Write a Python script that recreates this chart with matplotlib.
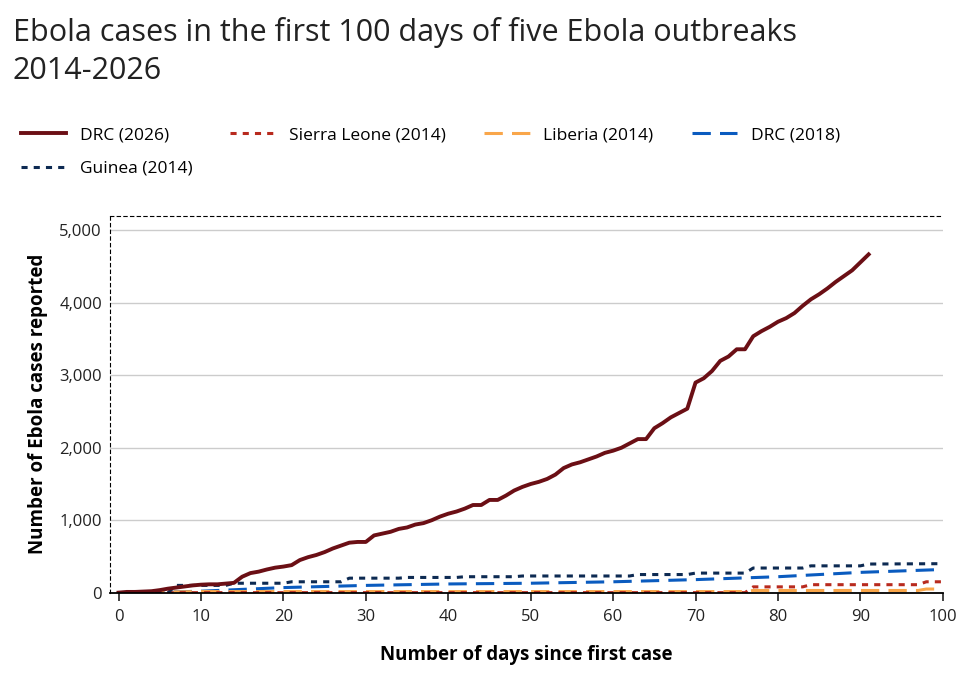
import matplotlib.pyplot as plt
import numpy as np

plt.rcParams["font.family"] = ["Open Sans", "DejaVu Sans"]

drc2026_days = list(range(0, 92))
drc2026 = [0, 10, 10, 15, 20, 35, 55, 70, 85, 100, 110, 115, 115, 125, 135, 220, 270, 290, 320, 345,
           360, 380, 450, 490, 520, 560, 610, 650, 690, 700, 700, 790, 815, 840, 880, 900, 940, 960, 1000, 1050,
           1090, 1120, 1160, 1210, 1210, 1280, 1280, 1340, 1410, 1460, 1500, 1530, 1570, 1630, 1720, 1770, 1800, 1840, 1880, 1930,
           1960, 2000, 2060, 2120, 2120, 2270, 2340, 2420, 2480, 2540, 2900, 2960, 3060, 3200, 3260, 3360, 3360, 3540, 3610, 3670,
           3740, 3790, 3860, 3960, 4050, 4120, 4200, 4290, 4370, 4450, 4560, 4670]

guinea_days = [0, 6, 7, 13, 14, 20, 21, 27, 28, 34, 35, 41, 42, 48, 49, 62, 63, 69, 70, 76, 77, 83, 84, 90, 91, 100]
guinea = [0, 0, 100, 100, 130, 130, 150, 150, 200, 200, 210, 210, 220, 220, 230, 230, 250, 250, 270, 270,
          340, 340, 370, 370, 395, 400]
sierra_days = [0, 76, 77, 83, 84, 97, 98, 100]
sierra = [0, 0, 80, 80, 110, 110, 150, 150]
liberia_days = [0, 10, 76, 77, 97, 98, 100]
liberia = [0, 15, 15, 30, 30, 50, 50]
drc2018_days = [0, 5, 10, 20, 30, 40, 50, 60, 70, 80, 90, 100]
drc2018 = [0, 5, 20, 70, 100, 120, 130, 150, 180, 220, 280, 320]

fig = plt.figure(figsize=(9.76, 6.75), dpi=100)
ax = fig.add_axes([0.113, 0.122, 0.853, 0.558])

ax.plot(drc2018_days, drc2018, color="#0a5bbf", lw=2.2, ls=(0, (6, 3)), label="DRC (2018)")
ax.plot(liberia_days, liberia, color="#f9a64a", lw=2.2, ls=(0, (6, 3)), label="Liberia (2014)")
ax.plot(sierra_days, sierra, color="#b82a1e", lw=2.2, ls=(0, (2, 2)), label="Sierra Leone (2014)")
ax.plot(guinea_days, guinea, color="#0d2a52", lw=2.2, ls=(0, (2, 2)), label="Guinea (2014)")
ax.plot(drc2026_days, drc2026, color="#6b0f15", lw=2.8, label="DRC (2026)")

ax.set_xlim(-1, 100)
ax.set_ylim(0, 5200)
ax.set_xticks(range(0, 101, 10))
ax.set_yticks(range(0, 5001, 1000))
ax.set_yticklabels([f"{v:,}" for v in range(0, 5001, 1000)])
ax.tick_params(labelsize=12, colors="#222222", length=0, pad=6)
ax.tick_params(axis="x", length=6, direction="out", width=1.2)
ax.grid(axis="y", color="#cccccc", lw=1)
ax.set_axisbelow(True)
ax.spines["right"].set_visible(False)
ax.spines["top"].set_linestyle((0, (3, 3)))
ax.spines["left"].set_linestyle((0, (3, 3)))
ax.spines["bottom"].set_linewidth(1.3)
ax.set_xlabel("Number of days since first case", fontsize=13.5, fontweight="bold", labelpad=14)
ax.set_ylabel("Number of Ebola cases reported", fontsize=13.5, fontweight="bold", labelpad=8)

fig.text(0.013, 0.975, "Ebola cases in the first 100 days of five Ebola outbreaks\n2014-2026",
         fontsize=22, va="top", linespacing=1.35, color="#222222")

h, l = ax.get_legend_handles_labels()
order = [4, 3, 2, 1, 0]
fig.legend([h[i] for i in order], [l[i] for i in order], loc="upper left",
           bbox_to_anchor=(0.005, 0.835), ncol=4, frameon=False, fontsize=12.5,
           handlelength=2.6, columnspacing=2.2, labelspacing=1.0)

fig.savefig("out.png", dpi=100)
